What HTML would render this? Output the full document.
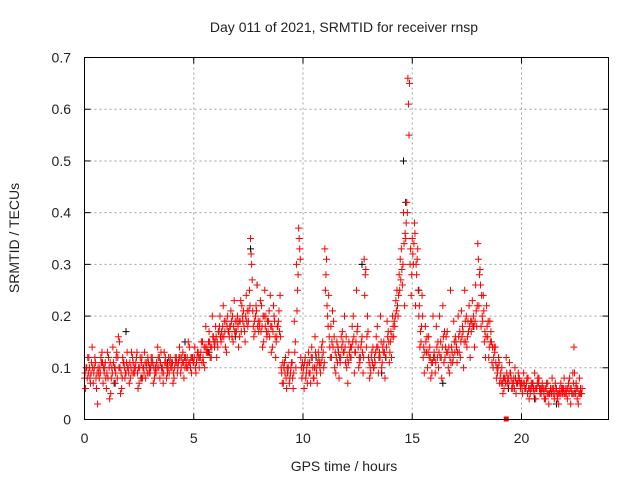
<!DOCTYPE html>
<html><head><meta charset="utf-8"><style>
body{margin:0;background:#fff;}
svg{display:block;font-family:"Liberation Sans",sans-serif;}
</style></head><body>
<svg id="chart" width="640" height="480" viewBox="0 0 640 480">
<text x="344" y="32" font-size="14" text-anchor="middle" fill="#222">Day 011 of 2021, SRMTID for receiver rnsp</text>
<text x="344" y="471" font-size="14" text-anchor="middle" fill="#222">GPS time / hours</text>
<text transform="translate(19,238) rotate(-90)" font-size="14" text-anchor="middle" fill="#222">SRMTID / TECUs</text>
<g id="grid"></g>
<g id="ticks"></g>
<g id="black"></g>
<g id="red"></g>
<rect x="84.5" y="57.5" width="524" height="362" fill="none" stroke="#000" stroke-width="1"/>
</svg>
<script>
const xTicks=[0,5,10,15,20];
const yTicks=[0,0.1,0.2,0.3,0.4,0.5,0.6,0.7];
const yTickLabels=["0","0.1","0.2","0.3","0.4","0.5","0.6","0.7"];
const redA=[.08,.10,.12,.09,.07,.11,.03,.10,.13,.09,
.06,.12,.05,.14,.10,.08,.15,.06,.11,.09,
.10,.08,.12,.09,.13,.07,.11,.10,.08,.12,
.09,.12,.08,.11,.10,.13,.07,.12,.09,.11,
.10,.08,.12,.11,.09,.13,.10,.12,.14,.09,
.11,.09,.13,.12,.15,.10,.14,.17,.12,.16,
.18,.14,.20,.16,.19,.13,.17,.21,.15,.19,
.20,.16,.22,.18,.24,.19,.35,.21,.17,.26,
.18,.22,.15,.20,.17,.24,.14,.19,.16,.21,
.10,.07,.12,.09,.08,.11,.19,.30,.37,.12,
.09,.12,.07,.11,.14,.08,.10,.13,.09,.15,
.33,.22,.16,.12,.19,.09,.14,.11,.17,.20,
.10,.15,.12,.20,.13,.18,.11,.16,.31,.14,
.12,.09,.14,.11,.18,.13,.10,.15,.12,.17,
.15,.20,.18,.25,.28,.33,.40,.35,.66,.30,
.35,.38,.28,.20,.15,.12,.18,.10,.14,.09,
.13,.18,.10,.15,.22,.12,.17,.09,.14,.19,
.15,.20,.12,.18,.25,.14,.22,.17,.20,.26,
.34,.29,.20,.15,.22,.12,.17,.10,.14,.09,
.07,.10,.06,.12,.08,.09,.06,.10,.07,.08,
.07,.09,.06,.08,.05,.07,.09,.06,.08,.05,
.06,.04,.07,.05,.08,.04,.06,.03,.07,.05,
.06,.04,.08,.05,.14,.07,.03,.06];
const redB=[.06,.12,.08,.14,.10,.06,.09,.12,.07,.11,
.13,.04,.10,.07,.12,.16,.05,.12,.08,.13,
.07,.13,.09,.11,.06,.12,.08,.13,.11,.09,
.12,.07,.10,.14,.08,.09,.13,.08,.12,.10,
.07,.12,.09,.14,.12,.08,.11,.15,.10,.12,
.14,.12,.10,.15,.11,.18,.13,.12,.20,.14,
.12,.17,.15,.22,.14,.20,.18,.16,.23,.17,
.14,.23,.19,.15,.21,.25,.30,.16,.22,.19,
.23,.14,.25,.16,.21,.13,.22,.12,.18,.24,
.07,.11,.06,.13,.10,.06,.15,.25,.33,.08,
.06,.09,.13,.07,.10,.16,.07,.11,.14,.10,
.28,.18,.12,.21,.10,.15,.08,.16,.13,.11,
.07,.12,.18,.09,.25,.10,.14,.09,.28,.20,
.08,.13,.10,.16,.09,.20,.14,.08,.19,.11,
.12,.16,.23,.20,.31,.26,.22,.42,.55,.24,
.30,.22,.33,.14,.24,.09,.13,.16,.08,.20,
.09,.12,.20,.08,.11,.16,.10,.25,.11,.13,
.11,.13,.21,.10,.15,.19,.12,.23,.14,.18,
.22,.18,.24,.12,.16,.19,.11,.14,.08,.12,
.09,.05,.08,.07,.11,.06,.08,.05,.09,.06,
.05,.06,.08,.04,.07,.06,.04,.08,.05,.07,
.04,.07,.03,.06,.05,.07,.04,.06,.05,.08,
.05,.07,.03,.09,.06,.04,.08,.05];
const redC=[.09,.08,.10,.11,.09,.08,.10,.09,.11,.10,
.09,.10,.08,.11,.09,.12,.10,.08,.10,.11,
.09,.10,.11,.10,.09,.10,.12,.09,.10,.11,
.10,.11,.09,.10,.12,.10,.09,.11,.10,.12,
.11,.10,.11,.12,.10,.11,.12,.10,.11,.12,
.12,.11,.12,.13,.12,.14,.13,.15,.14,.15,
.16,.17,.16,.18,.17,.18,.16,.19,.18,.17,
.18,.19,.20,.17,.19,.21,.32,.18,.20,.18,
.19,.18,.20,.17,.19,.18,.17,.16,.18,.17,
.09,.10,.08,.10,.09,.08,.13,.21,.35,.10,
.10,.08,.11,.09,.12,.10,.09,.12,.11,.13,
.25,.20,.14,.15,.16,.12,.13,.12,.15,.14,
.12,.13,.14,.16,.15,.14,.12,.13,.24,.16,
.11,.12,.10,.13,.14,.12,.11,.13,.14,.15,
.17,.18,.20,.22,.25,.29,.34,.38,.61,.33,
.32,.36,.31,.22,.18,.14,.15,.13,.12,.11,
.12,.14,.13,.12,.16,.14,.13,.12,.13,.15,
.14,.16,.15,.17,.19,.16,.18,.19,.18,.21,
.31,.26,.19,.17,.18,.14,.15,.12,.11,.10,
.08,.07,.08,.09,.07,.08,.07,.08,.07,.07,
.06,.07,.07,.06,.06,.07,.06,.07,.06,.06,
.05,.06,.05,.06,.06,.05,.05,.05,.06,.06,
.05,.06,.06,.05,.09,.06,.05,.05];
const redD=[.10,.09,.07,.10,.12,.09,.08,.11,.10,.08,
.08,.11,.09,.10,.13,.10,.09,.11,.09,.10,
.11,.09,.10,.12,.10,.08,.10,.11,.09,.10,
.11,.10,.09,.12,.11,.10,.11,.10,.09,.11,
.09,.11,.10,.12,.11,.12,.10,.11,.12,.11,
.10,.13,.12,.11,.14,.13,.15,.14,.16,.15,
.15,.18,.17,.16,.19,.17,.18,.20,.17,.19,
.19,.17,.21,.20,.18,.22,.27,.19,.21,.17,
.17,.20,.18,.19,.16,.18,.20,.15,.19,.16,
.11,.09,.10,.07,.11,.09,.10,.28,.31,.11,
.11,.10,.09,.12,.08,.13,.11,.10,.12,.11,
.31,.24,.18,.14,.13,.11,.12,.14,.13,.16,
.11,.14,.15,.13,.17,.12,.15,.12,.29,.17,
.10,.11,.12,.14,.12,.15,.13,.12,.16,.13,
.16,.19,.21,.24,.27,.30,.36,.40,.65,.28,
.34,.30,.25,.17,.20,.13,.16,.12,.11,.12,
.11,.15,.12,.14,.17,.13,.14,.11,.12,.16,
.13,.17,.16,.15,.20,.17,.19,.18,.19,.22,
.28,.24,.21,.16,.19,.15,.14,.13,.10,.11,
.07,.08,.07,.08,.09,.07,.06,.07,.08,.07,
.07,.06,.05,.06,.06,.05,.06,.07,.06,.06,
.06,.05,.05,.05,.06,.06,.05,.05,.06,.05,
.06,.05,.06,.07,.05,.06,.05,.06];
const blackT=[0.3,1.4,1.9,2.6,3.8,4.6,5.7,6.9,7.6,7.9,9.3,10.6,11.6,12.7,13.6,14.6,14.7,15.3,16.4,17.8,19.4,20.6,21.6,22.4];
const blackV=[.09,.07,.17,.08,.11,.15,.13,.16,.33,.26,.09,.12,.14,.30,.09,.50,.42,.25,.07,.18,.06,.04,.03,.05];
const zeroT=[19.3];
const zeroV=[0];
const X=t=>84.5+t*21.85, Y=v=>419.5-v*517.1;
const ns="http://www.w3.org/2000/svg";
const mk=(tag,attrs,parent)=>{const e=document.createElementNS(ns,tag);for(const k in attrs)e.setAttribute(k,attrs[k]);parent.appendChild(e);return e;};
const grid=document.getElementById('grid'),ticks=document.getElementById('ticks');
xTicks.forEach(t=>{const x=X(t);
 if(t>0){const g=mk('line',{x1:x,x2:x,y1:57.5,y2:419.5,stroke:'#a0a0a0','stroke-dasharray':'2,3'},grid);}
 const a=mk('line',{x1:x,x2:x,y1:419.5,y2:413.5,stroke:'#000'},ticks);
 const b=mk('line',{x1:x,x2:x,y1:57.5,y2:63.5,stroke:'#000'},ticks);
 const l=mk('text',{x:x,y:443,'font-size':14,'text-anchor':'middle',fill:'#222'},ticks);l.textContent=t;
 });
yTicks.forEach((v,i)=>{const y=Y(v);
 if(v>0){const g=mk('line',{x1:84.5,x2:608.5,y1:y,y2:y,stroke:'#a0a0a0','stroke-dasharray':'2,3'},grid);}
 const a=mk('line',{x1:84.5,x2:90.5,y1:y,y2:y,stroke:'#000'},ticks);
 const b=mk('line',{x1:602.5,x2:608.5,y1:y,y2:y,stroke:'#000'},ticks);
 const l=mk('text',{x:71,y:y+5,'font-size':14,'text-anchor':'end',fill:'#222'},ticks);l.textContent=yTickLabels[i];
 });
function plus(g,t,v,color){const x=X(t),y=Y(v);
 const p=mk('path',{d:`M${x-3.5},${y}H${x+3.5}M${x},${y-3.5}V${y+3.5}`,stroke:color,'stroke-width':1,fill:'none'},g);
 }
const bg=document.getElementById('black'),rg=document.getElementById('red');
blackT.forEach((t,i)=>plus(bg,t,blackV[i],'#000'));
redA.forEach((v,i)=>plus(rg,i*0.1,v,'#ff0000'));
redC.forEach((v,i)=>plus(rg,i*0.1+0.025,v,'#ff0000'));
redB.forEach((v,i)=>plus(rg,i*0.1+0.05,v,'#ff0000'));
redD.forEach((v,i)=>plus(rg,i*0.1+0.075,v,'#ff0000'));
zeroT.forEach((t,i)=>{const r=mk('rect',{x:X(t)-2.5,y:Y(zeroV[i])-3,width:5,height:5,fill:'#ff0000'},rg);
 });
</script>
</body></html>
